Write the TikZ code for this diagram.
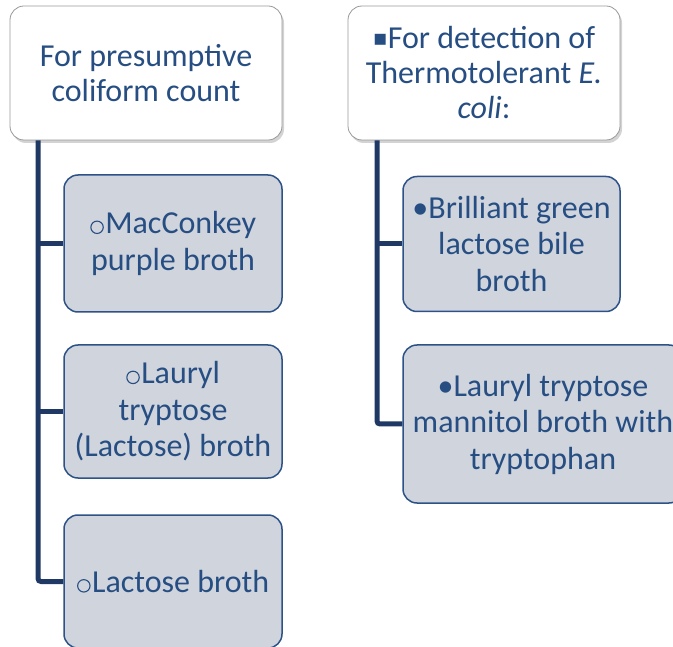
\documentclass[tikz,border=0pt]{standalone}
\usepackage{fontspec}
\setmainfont{Carlito}
\newfontfamily\symfont{DejaVu Sans}
\usetikzlibrary{shadows}
\definecolor{inktext}{RGB}{38,78,130}
\definecolor{trunk}{RGB}{31,56,100}
\definecolor{boxfill}{RGB}{208,212,221}
\definecolor{boxline}{RGB}{45,82,135}
% hollow round bullet and small square bullet
\newcommand{\hollow}{\tikz[baseline=0pt,x=1pt,y=1pt]\draw[inktext,line width=1.1pt] (0,0) ++(6.5,6.5) circle (6.2);\hspace{1.5pt}}
\newcommand{\sqbullet}{{\symfont\fontsize{22}{22}\selectfont\raisebox{3pt}{▪}}}
\tikzset{
  headbox/.style={draw=black!40, line width=0.8pt, fill=white, rounded corners=14pt,
    drop shadow={shadow xshift=2pt, shadow yshift=-3pt, opacity=0.35},
    inner sep=0pt, align=center, text=inktext,
    font=\fontsize{32}{35}\selectfont},
  itembox/.style={draw=boxline, line width=1.5pt, fill=boxfill, rounded corners=14pt,
    inner sep=0pt, align=center, text=inktext,
    font=\fontsize{32}{36.5}\selectfont},
  link/.style={draw=trunk, line width=5pt},
}
\begin{document}
\begin{tikzpicture}[x=1pt,y=-1pt]
\useasboundingbox (0,0) rectangle (673,647);
\clip (0,0) rectangle (673,647);

% trunks and branches, drawn first so the boxes sit on top
\coordinate (ltop) at (38,120);
\coordinate (ltb) at (38,581.5);
\coordinate (rtop) at (377,120);
\coordinate (rtb) at (377,424);
\coordinate (lb1) at (38,243.5);
\coordinate (lb2) at (38,411.5);
\coordinate (rb1) at (377,244);

% left column
\node[headbox, minimum width=272pt, minimum height=134pt] (hl) at (146,73)
  {For presumptive\\coliform count};
\node[itembox, minimum width=218pt, minimum height=137pt] (l1) at (173,243.5)
  {\hollow MacConkey\\purple broth};
\node[itembox, minimum width=218pt, minimum height=133pt] (l2) at (173,411.5)
  {\hollow Lauryl\\tryptose\\(Lactose) broth};
\node[itembox, minimum width=218pt, minimum height=133pt] (l3) at (173,581.5)
  {\hollow Lactose broth};

% right column
\node[headbox, minimum width=272pt, minimum height=134pt] (hr) at (484,73)
  {\sqbullet For detection of\\Thermotolerant \textit{E.}\\\textit{coli}:};
\node[itembox, minimum width=217pt, minimum height=135pt] (r1) at (511.5,244)
  {•Brilliant green\\lactose bile\\broth};
\node[itembox, minimum width=280pt, minimum height=158pt] (r2) at (543,424)
  {•Lauryl tryptose\\mannitol broth with\\tryptophan};

\draw[link, rounded corners=3pt] (hl.south -| ltop) -- (ltb) -- (l3.west);
\draw[link] (lb1) -- (l1.west);
\draw[link] (lb2) -- (l2.west);
\draw[link, rounded corners=3pt] (hr.south -| rtop) -- (rtb) -- (r2.west);
\draw[link] (rb1) -- (r1.west);
\end{tikzpicture}
\end{document}
